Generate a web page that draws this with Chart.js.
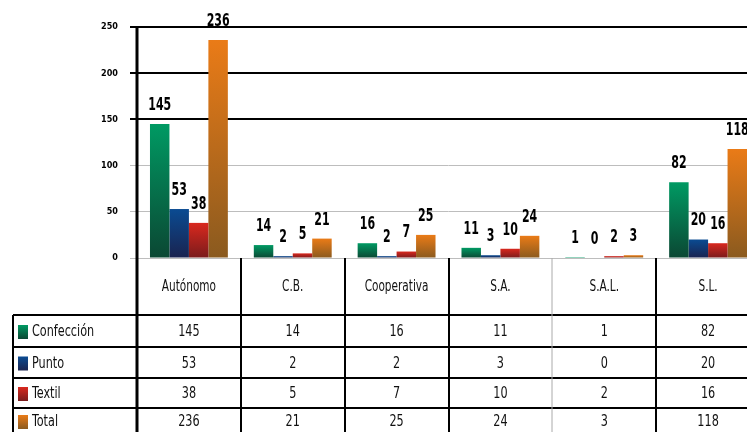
<!DOCTYPE html>
<html>
<head>
<meta charset="utf-8">
<script src="https://cdn.jsdelivr.net/npm/chart.js@4"></script>
<style>
html,body{margin:0;padding:0;background:#fff;overflow:hidden;}
#wrap{width:760px;height:432px;position:relative;}
</style>
</head>
<body>
<div id="wrap"><canvas id="c"></canvas></div>
<script>
const categories = ['Autónomo', 'C.B.', 'Cooperativa', 'S.A.', 'S.A.L.', 'S.L.'];
const seriesNames = ['Confección', 'Punto', 'Textil', 'Total'];
const confeccion = [145, 14, 16, 11, 1, 82];
const punto = [53, 2, 2, 3, 0, 20];
const textil = [38, 5, 7, 10, 2, 16];
const total = [236, 21, 25, 24, 3, 118];
const yTicks = [0, 50, 100, 150, 200, 250];

const palette = [
  ['#009a63', '#0b4733'],
  ['#0a4b92', '#1a234f'],
  ['#d9281e', '#791b1c'],
  ['#ea7b17', '#8a5a1f']
];

function grad(idx) {
  return function(ctx) {
    const [top, bot] = palette[idx];
    if (ctx.type !== 'data') return top;
    const chart = ctx.chart;
    const ya = chart.scales.y;
    if (!chart.chartArea || !ya || !ctx.parsed) return top;
    const yTop = ya.getPixelForValue(ctx.parsed.y);
    const yBot = ya.getPixelForValue(0);
    if (yBot - yTop < 1) return top;
    const g = chart.ctx.createLinearGradient(0, yTop, 0, yBot);
    g.addColorStop(0, top);
    g.addColorStop(1, bot);
    return g;
  };
}

const seriesData = [confeccion, punto, textil, total];
const COND = '"DejaVu Sans Condensed", "Liberation Sans Narrow", "DejaVu Sans", sans-serif';

function condText(ctx, text, x, y, sx) {
  ctx.save();
  ctx.translate(x, y);
  ctx.scale(sx, 1);
  ctx.fillText(text, 0, 0);
  ctx.restore();
}

const tablePlugin = {
  id: 'tablePlugin',
  afterDatasetsDraw(chart) {
    const ctx = chart.ctx;
    ctx.save();
    ctx.font = 'bold 17px ' + COND;
    ctx.fillStyle = '#000';
    ctx.textAlign = 'center';
    ctx.textBaseline = 'bottom';
    chart.data.datasets.forEach((ds, di) => {
      const meta = chart.getDatasetMeta(di);
      meta.data.forEach((bar, i) => {
        condText(ctx, String(ds.data[i]), bar.x, bar.y - 10, 0.72);
      });
    });
    ctx.restore();
  },
  afterDraw(chart) {
    const ctx = chart.ctx;
    const area = chart.chartArea;
    const xa = chart.scales.x;
    const n = categories.length;
    const cw = (area.right - area.left) / n;
    const H = chart.height;
    const rowsY = [315, 347, 378, 408, 439];
    const tableLeft = 13;
    ctx.save();
    ctx.strokeStyle = '#000';
    ctx.lineWidth = 2;
    for (let r = 0; r < 4; r++) {
      ctx.beginPath();
      ctx.moveTo(tableLeft, rowsY[r]);
      ctx.lineTo(chart.width, rowsY[r]);
      ctx.stroke();
    }
    ctx.beginPath();
    ctx.moveTo(tableLeft, rowsY[0]);
    ctx.lineTo(tableLeft, H);
    ctx.stroke();
    for (let k = 1; k < n; k++) {
      const x = Math.round(area.left + k * cw);
      ctx.beginPath();
      if (k === 4) { ctx.strokeStyle = '#aaa'; ctx.lineWidth = 1; }
      else { ctx.strokeStyle = '#000'; ctx.lineWidth = 2; }
      ctx.moveTo(x, area.bottom);
      ctx.lineTo(x, H);
      ctx.stroke();
    }
    ctx.strokeStyle = '#000';
    ctx.lineWidth = 3;
    ctx.beginPath();
    ctx.moveTo(area.left, area.top - 1);
    ctx.lineTo(area.left, H);
    ctx.stroke();
    ctx.fillStyle = '#111';
    ctx.textAlign = 'center';
    ctx.textBaseline = 'middle';
    ctx.font = '15px ' + COND;
    categories.forEach((c, i) => {
      condText(ctx, c, xa.getPixelForValue(i), 287, 0.78);
    });
    for (let r = 0; r < 4; r++) {
      const cy = r < 3 ? (rowsY[r] + rowsY[r + 1]) / 2 + 1 : 422;
      const [top, bot] = palette[r];
      const g = ctx.createLinearGradient(0, cy - 7, 0, cy + 7);
      g.addColorStop(0, top); g.addColorStop(1, bot);
      ctx.fillStyle = g;
      ctx.fillRect(18, cy - 7, 10, 14);
      ctx.fillStyle = '#111';
      ctx.font = '16px ' + COND;
      ctx.textAlign = 'left';
      condText(ctx, seriesNames[r], 32, cy, 0.78);
      ctx.textAlign = 'center';
      seriesData[r].forEach((v, i) => {
        condText(ctx, String(v), xa.getPixelForValue(i), cy, 0.78);
      });
    }
    ctx.restore();
  }
};

const gridColor = (c) => (c.tick && c.tick.value >= 150 ? '#000' : '#bdbdbd');
const gridWidth = (c) => (c.tick && c.tick.value >= 150 ? 2 : 1);

new Chart(document.getElementById('c'), {
  type: 'bar',
  data: {
    labels: categories,
    datasets: seriesNames.map((name, i) => ({
      label: name,
      data: seriesData[i],
      backgroundColor: grad(i),
      borderWidth: 0,
      categoryPercentage: 0.75,
      barPercentage: 1.0
    }))
  },
  options: {
    responsive: true,
    maintainAspectRatio: false,
    animation: false,
    layout: { padding: { top: 27, bottom: 174, left: 0, right: 0 } },
    plugins: { legend: { display: false }, tooltip: { enabled: false } },
    scales: {
      x: { display: false },
      y: {
        min: 0, max: 250,
        afterFit(scale) { scale.width = 137; },
        afterBuildTicks(scale) { scale.ticks = yTicks.map(v => ({ value: v })); },
        border: { display: false },
        grid: { color: gridColor, lineWidth: gridWidth, tickLength: 7, tickColor: gridColor, tickWidth: gridWidth },
        ticks: { color: '#000', padding: 12, font: { family: COND, size: 9, weight: 'bold' } }
      }
    }
  },
  plugins: [tablePlugin]
});
</script>
</body>
</html>
